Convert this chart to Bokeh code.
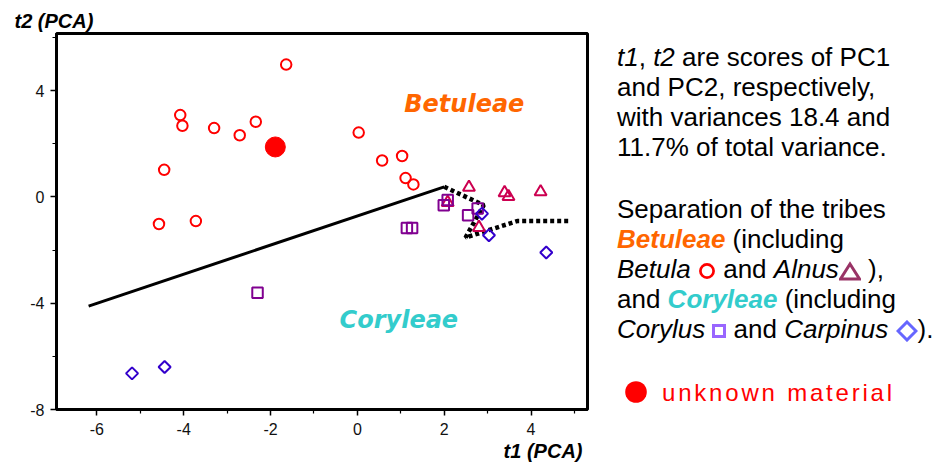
import math
from bokeh.plotting import figure
from bokeh.models import Range1d, FixedTicker, Label, Div, Title
from bokeh.layouts import row
from bokeh.embed import file_html
from bokeh.resources import INLINE

# ---------------- data ----------------
betula_t1 = [-1.64, -4.08, -4.03, -3.30, -2.71, -2.34, -4.45, -4.57, -3.72, 0.03, 0.57, 1.03, 1.11, 1.29]
betula_t2 = [4.98, 3.08, 2.68, 2.59, 2.32, 2.83, 1.02, -1.02, -0.91, 2.42, 1.37, 1.54, 0.71, 0.47]

alnus_t1 = [2.57, 3.39, 3.48, 4.22, 2.08, 2.80]
alnus_t2 = [0.36, 0.16, 0.01, 0.19, -0.21, -1.15]

corylus_t1 = [1.99, 2.08, 2.55, 2.77, 1.14, 1.26, -2.30]
corylus_t2 = [-0.31, -0.12, -0.69, -0.44, -1.17, -1.17, -3.61]

carpinus_t1 = [2.87, 3.03, 4.35, -5.19, -4.44]
carpinus_t2 = [-0.63, -1.44, -2.09, -6.64, -6.40]

unknown_t1 = [-1.89]
unknown_t2 = [1.88]

solid_t1 = [-6.19, 2.00]
solid_t2 = [-4.11, 0.38]

dotted_t1 = [2.00, 2.91, 2.49, 3.68, 4.91]
dotted_t2 = [0.38, -0.31, -1.53, -0.91, -0.91]

x_major = [-6, -4, -2, 0, 2, 4]
x_major_labels = ["-6", "-4", "-2", "0", "2", "4"]
x_minor = [-7, -5, -3, -1, 1, 3, 5]
y_major = [-8, -4, 0, 4]
y_major_labels = ["-8", "-4", "0", "4"]
y_minor = [-6, -2, 2, 6]

x_title = "t1 (PCA)"
y_title = "t2 (PCA)"
tribe1 = "Betuleae"
tribe2 = "Coryleae"

# ---------------- figure ----------------
SANS = "Liberation Sans"
p = figure(width=600, height=466,
           x_range=Range1d(-6.93, 5.3), y_range=Range1d(-8, 6.15),
           output_backend="svg", toolbar_location=None,
           min_border_left=56, min_border_right=13,
           min_border_top=33, min_border_bottom=57)
p.xgrid.visible = False
p.ygrid.visible = False
p.background_fill_color = "white"
p.border_fill_color = "white"
p.outline_line_color = "black"
p.outline_line_width = 3

p.xaxis.ticker = FixedTicker(ticks=x_major, minor_ticks=x_minor)
p.yaxis.ticker = FixedTicker(ticks=y_major, minor_ticks=y_minor)
p.xaxis.major_label_overrides = dict(zip(x_major, x_major_labels))
p.yaxis.major_label_overrides = dict(zip(y_major, y_major_labels))
for ax in (p.xaxis, p.yaxis):
    ax.axis_line_width = 3
    ax.axis_line_color = "black"
    ax.major_tick_in = 0
    ax.major_tick_out = 6
    ax.minor_tick_in = 0
    ax.minor_tick_out = 4
    ax.major_tick_line_width = 1.5
    ax.minor_tick_line_width = 1.2
    ax.major_label_text_font = SANS
    ax.major_label_text_font_size = "16px"
    ax.major_label_text_color = "#111111"
p.xaxis.major_label_standoff = 7
p.yaxis.major_label_standoff = 6

# axis titles as panel titles
t_top = Title(text=y_title, align="left", offset=-42, text_font=SANS,
              text_font_style="bold italic", text_font_size="20px",
              text_color="black", standoff=4)
p.add_layout(t_top, "above")
t_bot = Title(text=x_title, align="right", offset=5, text_font=SANS,
              text_font_style="bold italic", text_font_size="20px",
              text_color="black", standoff=0)
p.add_layout(t_bot, "below")

# boundary lines
p.line(solid_t1, solid_t2, line_color="black", line_width=3)
p.line(dotted_t1, dotted_t2, line_color="black", line_width=4.5, line_dash="4 3")

# points
p.scatter(betula_t1, betula_t2, marker="circle", size=10.5,
          fill_color=None, line_color="#ff0000", line_width=2)
p.scatter(alnus_t1, alnus_t2, marker="triangle", size=12,
          fill_color=None, line_color="#cc0050", line_width=2)
p.scatter(corylus_t1, corylus_t2, marker="square", size=10.5,
          fill_color=None, line_color="#800090", line_width=2)
p.scatter(carpinus_t1, carpinus_t2, marker="square", size=8.5, angle=math.pi / 4,
          fill_color=None, line_color="#3300cc", line_width=2)
p.scatter(unknown_t1, unknown_t2, marker="circle", size=20,
          fill_color="#ff0000", line_color="#ff0000", line_width=1)

# tribe labels
p.add_layout(Label(x=1.08, y=3.48, text=tribe1, text_font="DejaVu Sans",
                   text_font_style="bold italic", text_font_size="24px",
                   text_color="#ff6600", text_baseline="middle", text_align="left"))
p.add_layout(Label(x=-0.41, y=-4.63, text=tribe2, text_font="DejaVu Sans",
                   text_font_style="bold italic", text_font_size="24px",
                   text_color="#33cccc", text_baseline="middle", text_align="left"))

# ---------------- side text ----------------
circ = ('<svg width="18" height="18" style="vertical-align:middle">'
        '<circle cx="9" cy="9" r="6.6" fill="none" stroke="#ff0000" stroke-width="2.7"/></svg>')
tri = ('<svg width="22" height="20" style="vertical-align:middle">'
       '<polygon points="11,3 20.5,18 1.5,18" fill="none" stroke="#993366" stroke-width="3"/></svg>')
sq = ('<svg width="14" height="14" style="vertical-align:middle">'
      '<rect x="1.5" y="1.5" width="11" height="11" fill="none" stroke="#9966ff" stroke-width="3"/></svg>')
dia = ('<svg width="22" height="22" style="vertical-align:middle">'
       '<polygon points="11,2 20,11 11,20 2,11" fill="none" stroke="#6666ff" stroke-width="3"/></svg>')
dot = ('<svg width="24" height="24">'
       '<circle cx="12" cy="12" r="10.8" fill="#ff0000"/></svg>')

html = (
    '<div style="position:relative;width:339px;height:466px;'
    "font-family:'Liberation Sans',Arial,sans-serif;font-size:26px;line-height:30px;"
    'color:#000;white-space:nowrap;">'
    '<div style="position:absolute;left:12px;top:37px;">'
    '<i>t1</i>, <i>t2</i> are scores of PC1<br>'
    'and PC2, respectively,<br>'
    'with variances 18.4 and<br>'
    '11.7% of total variance.'
    '</div>'
    '<div style="position:absolute;left:12px;top:189px;">'
    'Separation of the tribes<br>'
    '<b><i style="color:#ff6600">Betuleae</i></b> (including<br>'
    '<i>Betula</i> ' + circ + ' and <i>Alnus</i>' + tri + ' ),<br>'
    'and <b><i style="color:#33cccc">Coryleae</i></b> (including<br>'
    '<i>Corylus</i> ' + sq + ' and <i>Carpinus</i> ' + dia + ').'
    '</div>'
    '<div style="position:absolute;left:19px;top:375px;width:24px;height:24px;">' + dot + '</div>'
    '<div style="position:absolute;left:57px;top:373px;color:#ff0000;font-size:24px;'
    'letter-spacing:2.8px;">unknown material</div>'
    '</div>'
)
div = Div(text=html, width=339, height=466)

layout = row(p, div)
open("out.html", "w").write(file_html(layout, INLINE))
